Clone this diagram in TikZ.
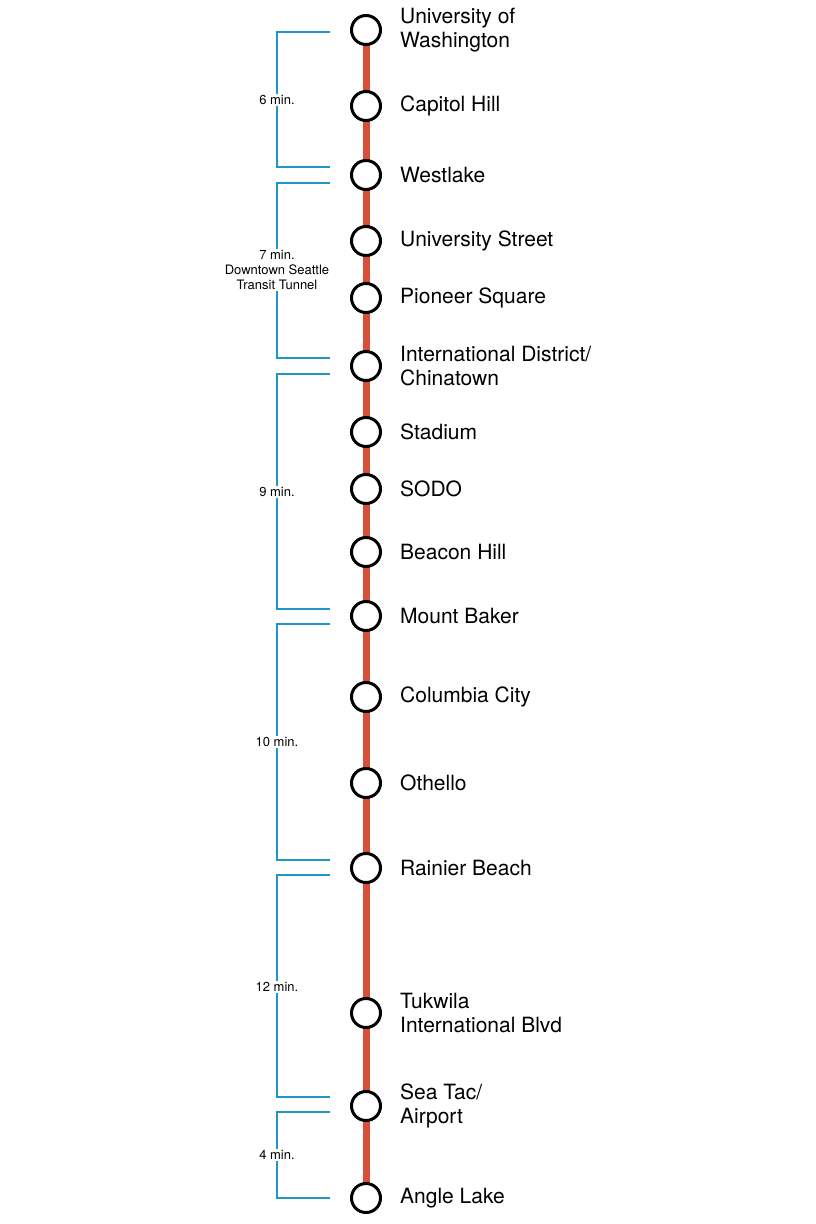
\documentclass[tikz,border=0pt]{standalone}
\usepackage{fontspec}
\setmainfont{TeX Gyre Heros}
\usepackage{xcolor}
\definecolor{linkred}{RGB}{214,80,56}
\definecolor{tunnelblue}{RGB}{30,150,200}
\begin{document}
\begin{tikzpicture}[x=1pt, y=-1pt,
    station/.style={draw, circle, line width=3pt, fill=white, minimum size=29pt, inner sep=0pt},
    stname/.style={right, font=\fontsize{21}{24}\selectfont, align=left, inner sep=0pt},
    minlabel/.style={fill=white, font=\fontsize{13}{15}\selectfont, align=center, inner sep=1pt},
    bracket/.style={draw=tunnelblue, line width=1.5pt}]
    \useasboundingbox (0,0) rectangle (816,1224);

    \coordinate (top) at (366,30);
    \coordinate (bottom) at (366,1198);
    \draw [linkred, line width=7pt] (top) -- (bottom);

    % stations
    \foreach \y/\id/\name in {30/uw/{University of\\Washington}, 106/ch/Capitol Hill, 175/wl/Westlake,
        241/us/University Street, 298/ps/Pioneer Square, 366/id/{International District/\\Chinatown},
        432/st/Stadium, 489/so/SODO, 552/bh/Beacon Hill, 616/mb/Mount Baker, 697/cc/Columbia City,
        783/ot/Othello, 868/rb/Rainier Beach, 1013/tk/{Tukwila\\International Blvd},
        1106/sa/{Sea Tac/\\Airport}, 1198/al/Angle Lake}
    {
        \node (\id) at (366,\y) [station] {};
        \node (\id-name) at (400,\y) [stname] {\name};
    }

    % travel time brackets
    \foreach \ya/\yb/\ym/\txt in {32/167/100/6 min., 183/358/270/{7 min.\\Downtown Seattle\\Transit Tunnel},
        374/609/492/9 min., 624/860/742/10 min., 875/1097/987/12 min., 1112/1198/1155/4 min.}
    {
        \draw [bracket] (330,\ya) -- (277,\ya) -- (277,\yb) -- (330,\yb);
        \node (lbl\ym) at (277,\ym) [minlabel] {\txt};
    }
\end{tikzpicture}
\end{document}
